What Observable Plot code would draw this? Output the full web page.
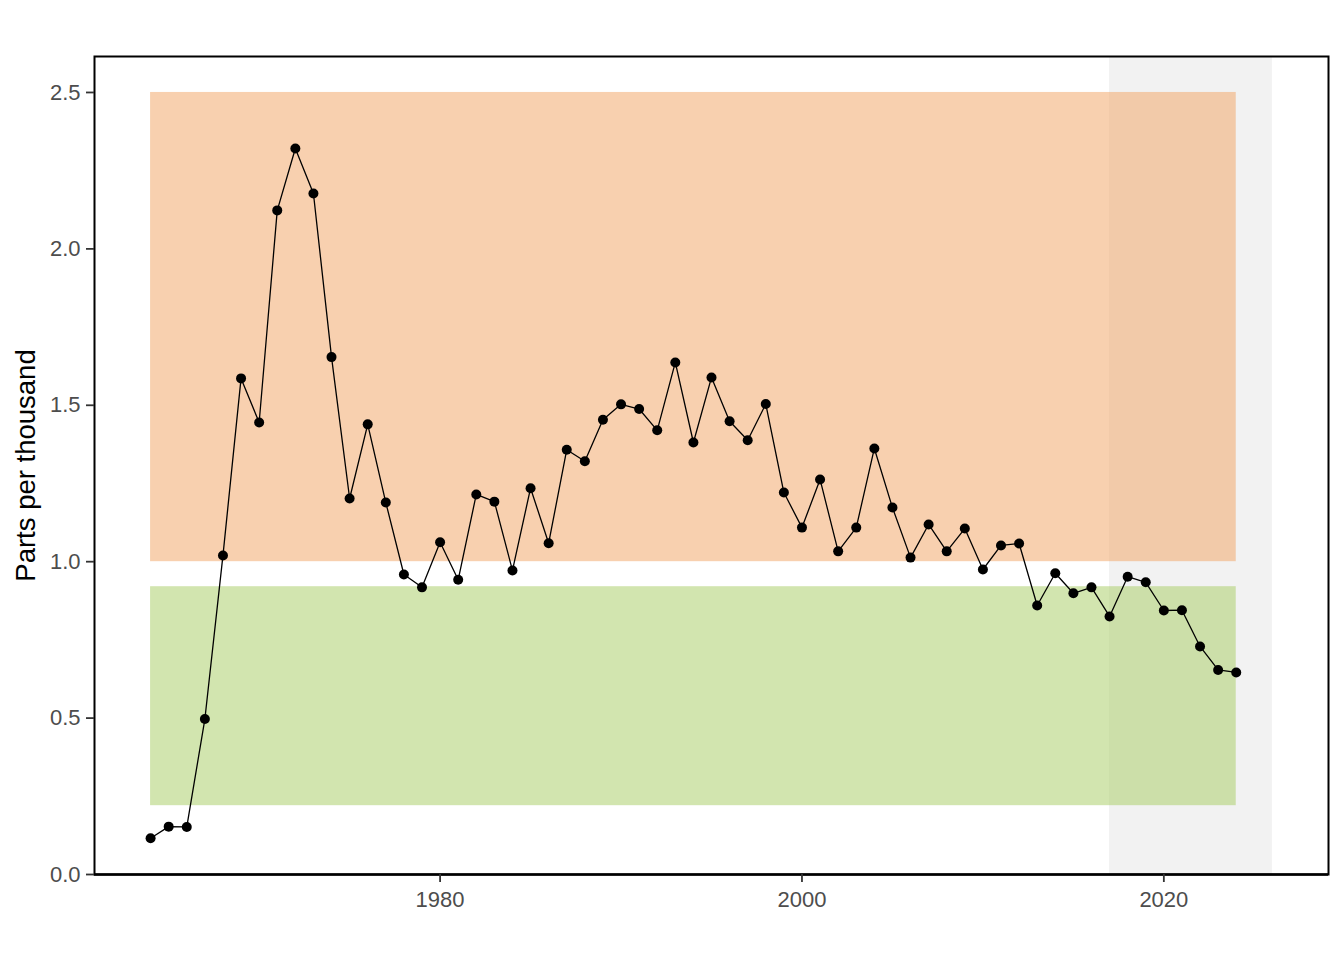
<!DOCTYPE html>
<html>
<head>
<meta charset="utf-8">
<script src="https://cdn.jsdelivr.net/npm/d3@7"></script>
<script src="https://cdn.jsdelivr.net/npm/@observablehq/plot@0.6"></script>
<style>
  html, body { margin: 0; padding: 0; background: #fff; }
  #chart { width: 1344px; height: 960px; }
</style>
</head>
<body>
<div id="chart"></div>
<script>
const years = [1964,1965,1966,1967,1968,1969,1970,1971,1972,1973,1974,1975,1976,1977,1978,1979,
  1980,1981,1982,1983,1984,1985,1986,1987,1988,1989,1990,1991,1992,1993,1994,1995,1996,1997,1998,1999,
  2000,2001,2002,2003,2004,2005,2006,2007,2008,2009,2010,2011,2012,2013,2014,2015,2016,2017,2018,2019,
  2020,2021,2022,2023,2024];
const values = [0.116,0.153,0.152,0.497,1.02,1.586,1.445,2.123,2.321,2.177,1.654,1.202,1.439,1.189,0.959,0.918,
  1.062,0.942,1.215,1.192,0.972,1.235,1.059,1.358,1.321,1.454,1.503,1.488,1.420,1.637,1.381,1.589,1.449,1.388,1.504,1.221,
  1.109,1.263,1.033,1.109,1.362,1.173,1.013,1.119,1.033,1.106,0.975,1.052,1.058,0.860,0.963,0.899,0.918,0.825,0.952,0.934,
  0.844,0.845,0.729,0.654,0.646];

// Reference bands: [x start, x end, y low, y high]
const bandNames = ["high", "low"];
const bandX1 = [1964, 1964];
const bandX2 = [2024, 2024];
const bandY1 = [1.0, 0.22];
const bandY2 = [2.5, 0.92];
const bandColors = ["#F1A15F", "#A5CB5F"];

// Shaded recent period
const shadeX1 = [2017];
const shadeX2 = [2026];

const xTicks = [1980, 2000, 2020];
const yTicks = [0, 0.5, 1.0, 1.5, 2.0, 2.5];
const yLabel = "Parts per thousand";

const series = years.map((y, i) => ({year: y, value: values[i]}));
const bands = bandNames.map((n, i) => ({name: n, x1: bandX1[i], x2: bandX2[i], y1: bandY1[i], y2: bandY2[i], color: bandColors[i]}));
const shade = shadeX1.map((x, i) => ({x1: x, x2: shadeX2[i]}));

const plot = Plot.plot({
  width: 1344,
  height: 960,
  marginLeft: 94,
  marginRight: 16,
  marginTop: 56,
  marginBottom: 86,
  style: {fontFamily: "'Liberation Sans', Arial, sans-serif", background: "#fff"},
  x: {domain: [1960.9, 2029.1]},
  y: {domain: [0, 2.615]},
  marks: [
    Plot.rect(shade, {x1: "x1", x2: "x2", fill: "#F2F2F2"}),
    Plot.rect(bands, {x1: "x1", x2: "x2", y1: "y1", y2: "y2", fill: d => d.color, fillOpacity: 0.5}),
    Plot.line(series, {x: "year", y: "value", stroke: "black", strokeWidth: 1.3}),
    Plot.dot(series, {x: "year", y: "value", r: 5, fill: "black"}),
    Plot.frame({stroke: "black", strokeWidth: 2}),
    Plot.ruleY([0], {stroke: "black", strokeWidth: 2.6}),
    Plot.axisX({ticks: xTicks, tickFormat: d => String(d), tickSize: 8, tickPadding: 9,
      stroke: "#333333", strokeWidth: 1.8, fill: "#4D4D4D", fontSize: 22, label: null}),
    Plot.axisY({ticks: yTicks, tickFormat: d3.format(".1f"), tickSize: 8, tickPadding: 6,
      stroke: "#333333", strokeWidth: 1.8, fill: "#4D4D4D", fontSize: 22, label: null}),
    Plot.axisY({ticks: [], tickSize: 0, text: null,
      label: yLabel, labelAnchor: "center", labelOffset: 79, labelArrow: "none",
      fill: "black", fontSize: 27.5})
  ]
});
document.getElementById("chart").appendChild(plot);
</script>
</body>
</html>
